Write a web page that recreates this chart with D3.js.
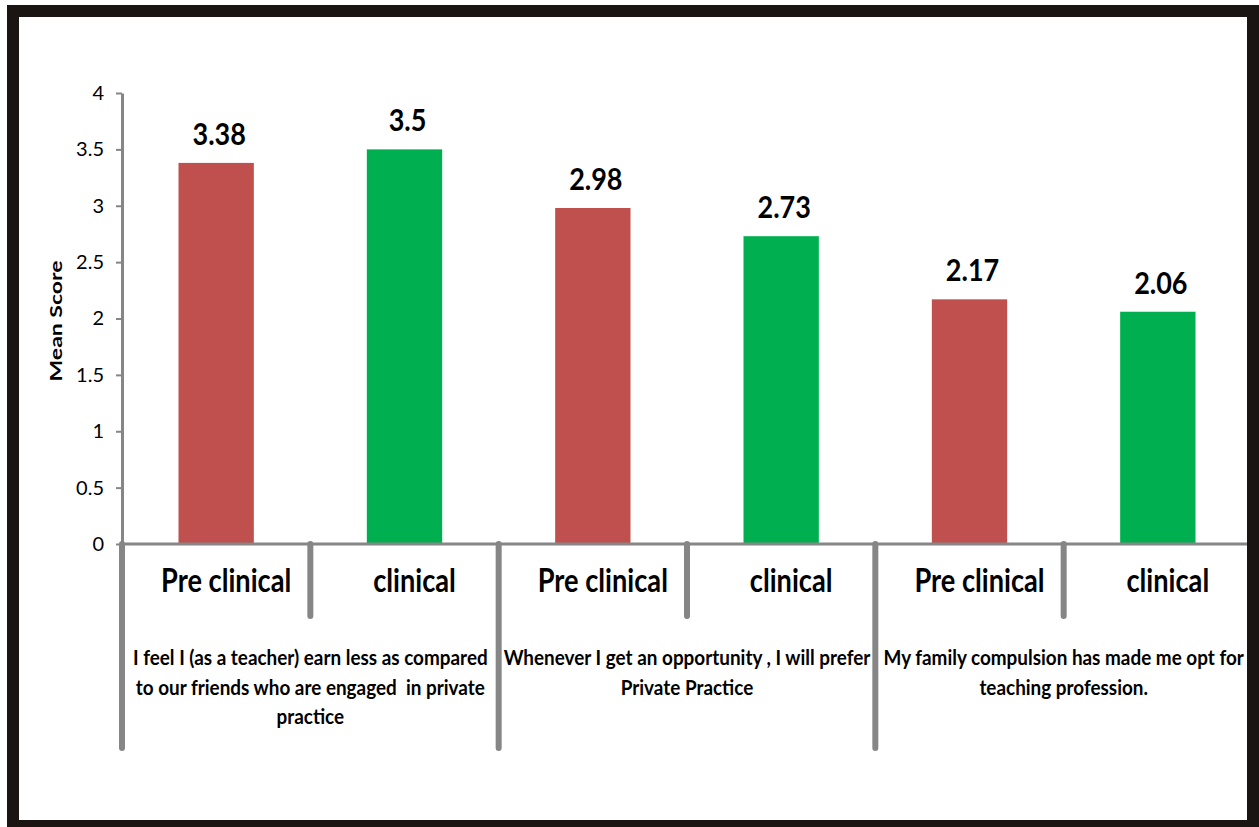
<!DOCTYPE html>
<html>
<head>
<meta charset="utf-8">
<script src="https://cdn.jsdelivr.net/npm/d3@7"></script>
<style>
  body { margin: 0; background: #fff; }
  svg { display: block; }
  text { font-family: Lato, "Open Sans", "DejaVu Sans", sans-serif; fill: #000; }
</style>
</head>
<body>
<svg id="chart" width="1259" height="827"></svg>
<script>
// Survey statements (wrapped as they appear under the axis)
const statements = [
  ["I feel I (as a teacher) earn less as compared", "to our friends who are engaged  in private", "practice"],
  ["Whenever I get an opportunity , I will prefer", "Private Practice"],
  ["My family compulsion has made me opt for", "teaching profession."]
];
const cohorts = ["Pre clinical", "clinical"];
const preClinical = [3.38, 2.98, 2.17];
const clinical = [3.5, 2.73, 2.06];
const yTicks = [0, 0.5, 1, 1.5, 2, 2.5, 3, 3.5, 4];
const yTitle = "Mean Score";

const colors = { "Pre clinical": "#C0504D", "clinical": "#00B050" };

// One row per bar: statement index, cohort, value
const rows = [];
statements.forEach((s, i) => {
  rows.push({ g: i, cohort: cohorts[0], value: preClinical[i], key: i + "-0" });
  rows.push({ g: i, cohort: cohorts[1], value: clinical[i], key: i + "-1" });
});

const svg = d3.select("#chart");
const axisGrey = "#868686";

const x = d3.scaleBand().domain(rows.map(d => d.key)).range([122, 1252]).padding(0);
const y = d3.scaleLinear().domain([0, 4]).range([544, 93]);
const bw = x.bandwidth();
const barW = bw * 0.4;

// Bars
svg.append("g").selectAll("rect").data(rows).join("rect")
  .attr("x", d => x(d.key) + (bw - barW) / 2)
  .attr("y", d => y(d.value))
  .attr("width", barW)
  .attr("height", d => y(0) - y(d.value))
  .attr("fill", d => colors[d.cohort]);

// Value labels
svg.append("g").selectAll("text").data(rows).join("text")
  .attr("transform", d => `translate(${x(d.key) + bw / 2 + 3},${y(d.value) - 18}) scale(0.9,1)`)
  .attr("text-anchor", "middle")
  .style("font-size", "30px")
  .style("font-weight", "700")
  .text(d => d.value);

// Y axis
const yAxis = svg.append("g")
  .attr("transform", `translate(${x.range()[0]},0)`)
  .call(d3.axisLeft(y).tickValues(yTicks).tickSize(6).tickSizeOuter(0).tickPadding(12).tickFormat(d => String(d)));
yAxis.select(".domain").attr("stroke", axisGrey).attr("stroke-width", 3);
yAxis.selectAll(".tick line").attr("stroke", axisGrey).attr("stroke-width", 2);
yAxis.selectAll(".tick text")
  .style("font-size", "20px")
  .style("font-family", "Lato, 'Open Sans', sans-serif")
  .attr("fill", "#111");

// Y axis title
svg.append("text")
  .attr("transform", `translate(62,321) scale(0.78,1) rotate(-90)`)
  .attr("text-anchor", "middle")
  .style("font-size", "23px")
  .style("font-weight", "700")
  .text(yTitle);

// X axis baseline
svg.append("line")
  .attr("x1", x.range()[0]).attr("x2", x.range()[1])
  .attr("y1", y(0)).attr("y2", y(0))
  .attr("stroke", axisGrey).attr("stroke-width", 3);

// Category dividers: long ones between statements, short ones between cohorts
const dividers = rows.map(d => ({ x: x(d.key), major: d.key.endsWith("-0") }));
dividers.push({ x: x.range()[1], major: true });
svg.append("g").selectAll("line").data(dividers).join("line")
  .attr("x1", d => d.x).attr("x2", d => d.x)
  .attr("y1", y(0)).attr("y2", d => y(0) + (d.major ? 204 : 72))
  .attr("stroke", axisGrey).attr("stroke-width", 6).attr("stroke-linecap", "round");

// Cohort labels
svg.append("g").selectAll("text").data(rows).join("text")
  .attr("transform", d => `translate(${x(d.key) + bw / 2 + 10},592) scale(0.85,1)`)
  .attr("text-anchor", "middle")
  .style("font-size", "32px")
  .style("font-weight", "700")
  .text(d => d.cohort);

// Statement labels
statements.forEach((lines, i) => {
  const x0 = x(i + "-0");
  const x1 = x(i + "-1") + bw;
  const cx = (x0 + x1) / 2;
  svg.append("g").selectAll("text").data(lines).join("text")
    .attr("transform", (d, j) => `translate(${cx},${665 + j * 29.5}) scale(0.9,1)`)
    .attr("text-anchor", "middle")
    .style("font-size", "21px")
    .style("font-weight", "700")
    .attr("xml:space", "preserve")
    .style("white-space", "pre")
    .text(d => d);
});

// Frame
svg.append("rect")
  .attr("x", 13).attr("y", 11).attr("width", 1240).attr("height", 815)
  .attr("fill", "none").attr("stroke", "#1a1512").attr("stroke-width", 12);
</script>
</body>
</html>
